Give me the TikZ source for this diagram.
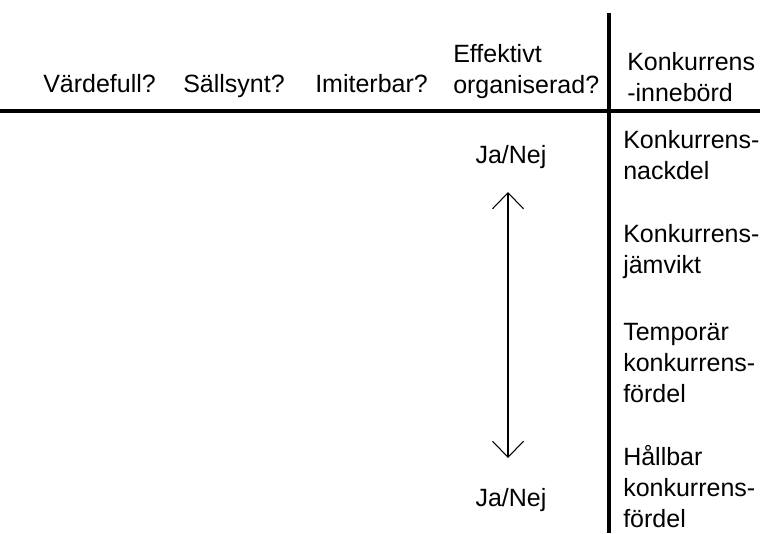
\documentclass[tikz,border=0pt]{standalone}
\usepackage{fontspec}
\setmainfont{Liberation Sans}
\usetikzlibrary{arrows.meta,positioning}
\tikzset{lbl/.style={anchor=base west, inner sep=0pt, align=left, text=black, font=\fontsize{18.75}{23.25}\selectfont},
  ruleline/.style={line width=2.4pt},
  pil/.style={{Straight Barb[length=12pt,width=23.25pt]}-{Straight Barb[length=12pt,width=23.25pt]}, line width=0.8pt}}

\begin{document}
\begin{tikzpicture}[x=0.75pt,y=-0.75pt]
    \useasboundingbox (0,0) rectangle (760,533);
    % rules
    \coordinate (L) at (0,111);
    \coordinate (R) at (760,111);
    \coordinate (T) at (609,13);
    \coordinate (B) at (609,533);
    \draw[ruleline] (L) -- (R);
    \draw[ruleline] (T) -- (B);
    % header (base = last line)
    \node[lbl] (H1) at (43,92) {Värdefull?};
    \node[lbl] (H2) at (183,92) {Sällsynt?};
    \node[lbl] (H3) at (315,92) {Imiterbar?};
    \node[lbl] (H4) at (453,93) {Effektivt\\organiserad?};
    \node[lbl] (H5) at (627,101) {Konkurrens\\-innebörd};
    % results
    \node[lbl] (R1) at (623,179) {Konkurrens-\\nackdel};
    \node[lbl] (R2) at (623,273) {Konkurrens-\\jämvikt};
    \node[lbl] (R3) at (623,402) {Temporär\\konkurrens-\\fördel};
    \node[lbl] (R4) at (623,527) {Hållbar\\konkurrens-\\fördel};
    % ja/nej
    \node[lbl, anchor=base] (J1) at (511,163) {Ja/Nej};
    \node[lbl, anchor=base] (J2) at (511,506) {Ja/Nej};
    \coordinate (A1) at (508,192);
    \coordinate (A2) at (508,458);
    \draw[pil] (A1) -- (A2);
\end{tikzpicture}
\end{document}
